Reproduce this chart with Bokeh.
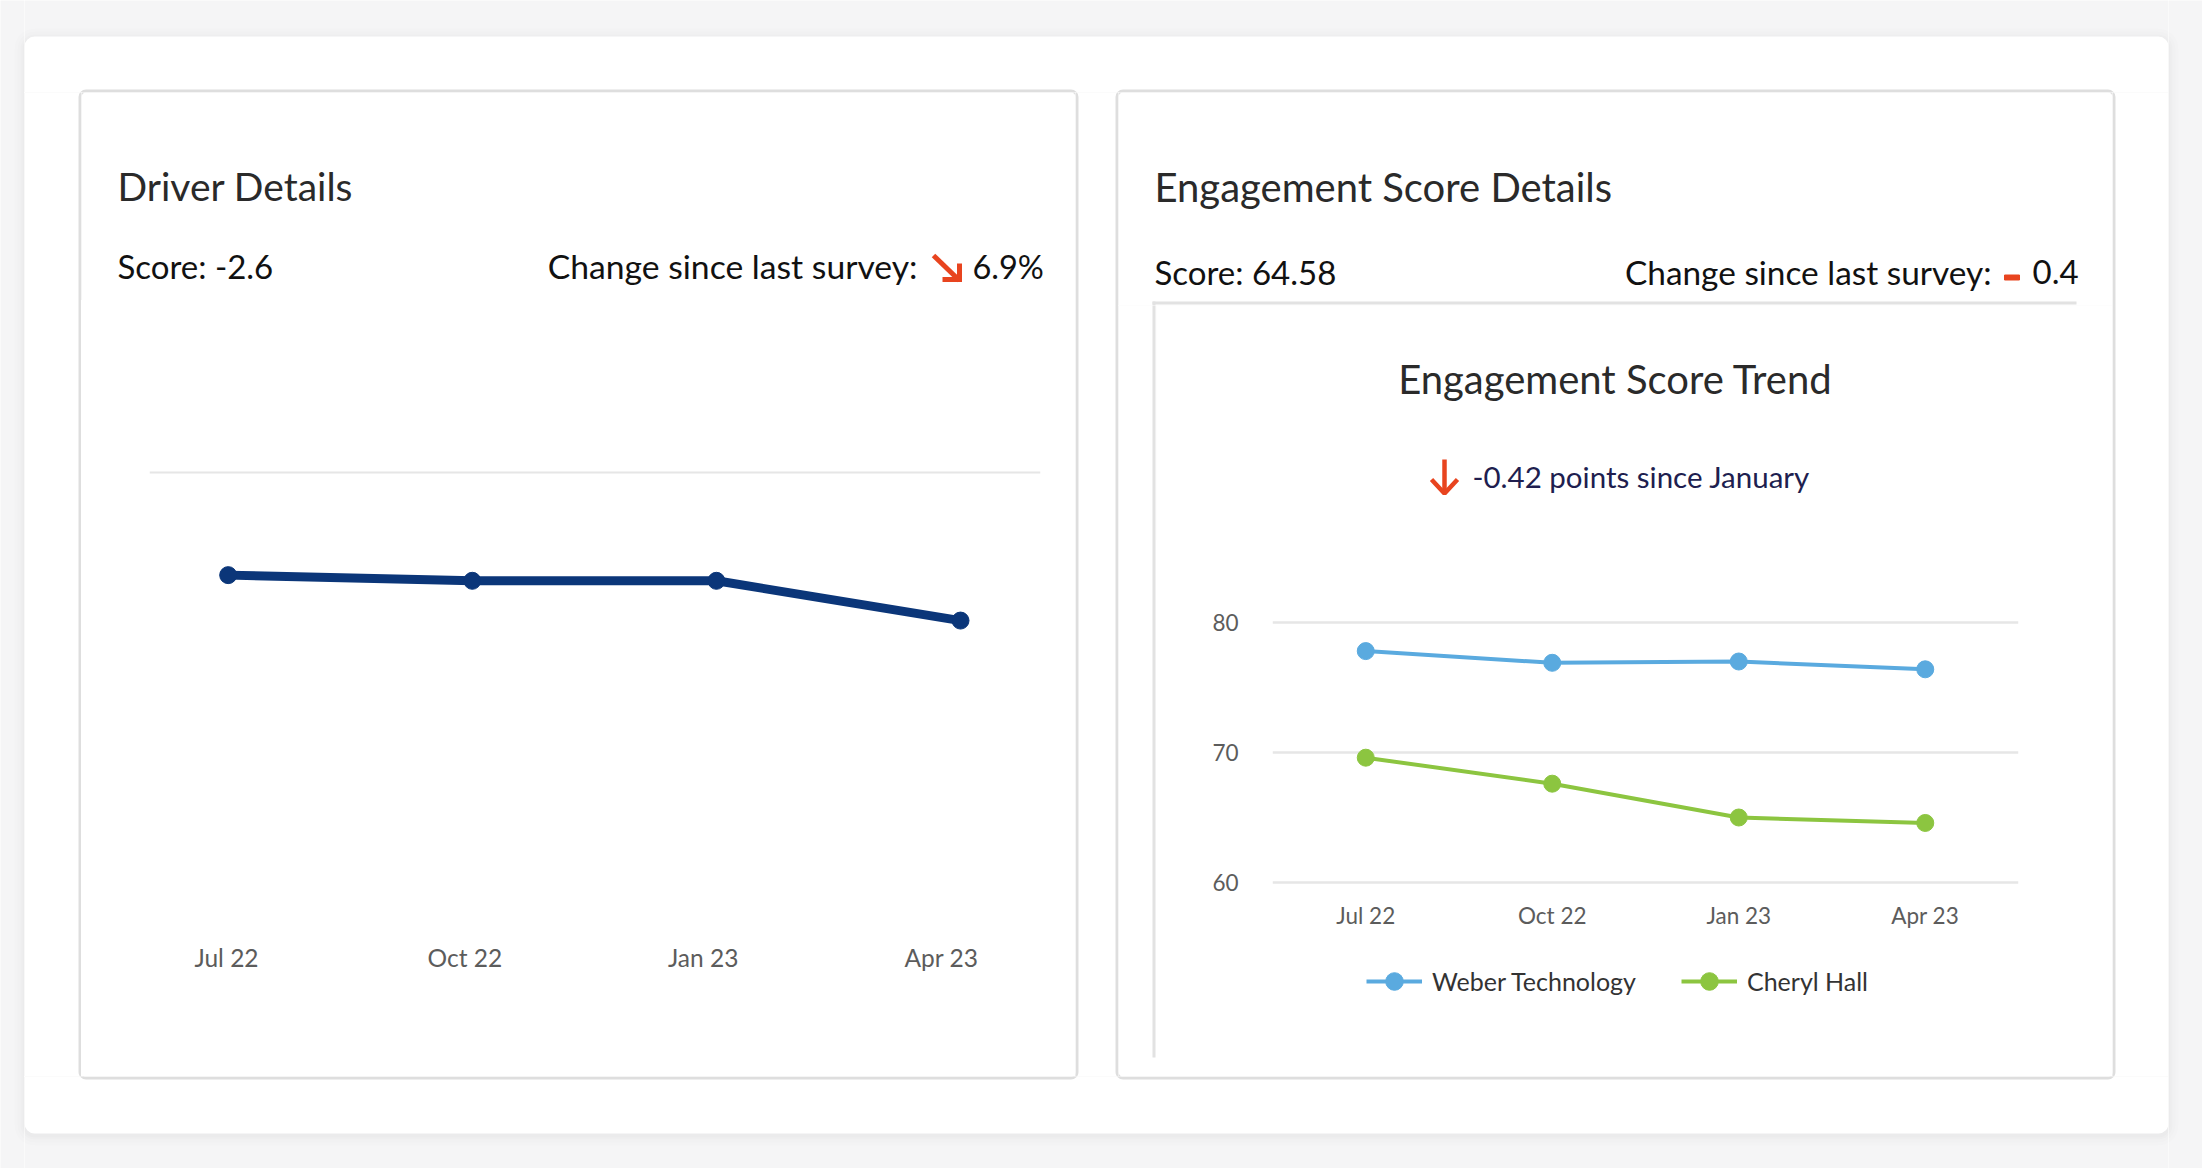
from bokeh.plotting import figure
from bokeh.models import Range1d, BoxAnnotation, FixedTicker, Legend, LegendItem, LinearAxis
from bokeh.layouts import column, row
from bokeh.embed import file_html
from bokeh.resources import INLINE
from bokeh.core.properties import value

# ---------------- data ----------------
months = ["Jul 22", "Oct 22", "Jan 23", "Apr 23"]
driver_scores = [-1.8, -1.9, -1.9, -2.6]
weber_scores = [77.8, 76.9, 77.0, 76.4]
cheryl_scores = [69.6, 67.6, 65.0, 64.58]
series_names = ["Weber Technology", "Cheryl Hall"]
engagement_ticks = [60, 70, 80]
driver_grid_ticks = [0]

driver_title = "Driver Details"
driver_score_text = "Score: -2.6"
change_label = "Change since last survey:"
driver_change_value = "6.9%"
eng_title = "Engagement Score Details"
eng_score_text = "Score: 64.58"
eng_change_value = "0.4"
trend_title = "Engagement Score Trend"
trend_subtitle = "-0.42 points since January"

# ---------------- style ----------------
FONT = "Lato"
PAGE_BG = "#F5F5F6"
BORDER = "#DEDEDE"
RED = "#E8441F"
NAVY = "#0B3679"
BLUE = "#5AAADF"
GREEN = "#8CC540"
TICK_COLOR = "#5C5C5C"


def base_fig(**kw):
    return figure(toolbar_location=None, output_backend="svg", title=None,
                  frame_align=False, outline_line_color=None, **kw)


def deco(gx0, gy0, gx1, gy1, texts=()):
    """A tile that shows a window (in page pixels) of the page decoration."""
    p = base_fig(width=gx1 - gx0, height=gy1 - gy0,
                 x_range=Range1d(gx0, gx1), y_range=Range1d(gy1, gy0), min_border=0,
                 x_axis_location=None, y_axis_location=None,
                 background_fill_color=PAGE_BG, border_fill_color=PAGE_BG)
    p.grid.visible = False
    for g, a in [(10, 0.006), (7, 0.008), (4, 0.010), (2, 0.012)]:
        p.add_layout(BoxAnnotation(left=24 - g, right=2168 + g, top=36 - g + 2, bottom=1133 + g + 2,
                                   fill_color="black", fill_alpha=a, line_color=None,
                                   border_radius=10 + g, level="underlay"))
    p.add_layout(BoxAnnotation(left=24, right=2168, top=36, bottom=1133, fill_color="white",
                               fill_alpha=1, line_color=None, border_radius=10, level="underlay"))
    for l, r in [(79.5, 1076.5), (1116.5, 2113.5)]:
        p.add_layout(BoxAnnotation(left=l, right=r, top=90.5, bottom=1077.5, fill_color="white",
                                   fill_alpha=1, line_color=BORDER, line_alpha=1, line_width=3,
                                   border_radius=6, level="underlay"))
    # inner chart container (top and left edges)
    p.segment(x0=[1152, 1153.5], y0=[302.5, 301], x1=[2076, 1153.5], y1=[302.5, 1057],
              line_color="#E2E2E2", line_width=3)
    for (x, y, t, size, color, align) in texts:
        p.text(x=[x], y=[y], text=[t], text_font=value(FONT), text_font_size=size,
               text_color=color, text_align=align, text_baseline="alphabetic")
    return p


# ---------------- tiles (page pixel windows) ----------------
outer_left = deco(0, 0, 24, 1168)
outer_right = deco(2168, 0, 2202, 1168)
top = deco(24, 0, 2168, 92)
bottom = deco(24, 1076, 2168, 1168)
left_strip = deco(24, 92, 81, 1076)
mid_strip = deco(1075, 92, 1118, 1076)
right_strip = deco(2112, 92, 2168, 1076)

head_l = deco(81, 92, 1075, 300, texts=[
    (117, 185, driver_title, "39px", "#2A2A2A", "left"),
    (117, 265.5, driver_score_text, "33px", "#111111", "left"),
    (917, 265.5, change_label, "33.7px", "#111111", "right"),
    (972, 265.5, driver_change_value, "32.5px", "#111111", "left"),
])
head_l.multi_line(xs=[[933, 959], [959, 959], [942, 961.5]],
                  ys=[[255, 280], [263, 281.5], [279, 279]],
                  line_color=RED, line_width=5)

head_r = deco(1118, 92, 2112, 305, texts=[
    (1154, 186, eng_title, "40px", "#2A2A2A", "left"),
    (1154, 271.5, eng_score_text, "33px", "#111111", "left"),
    (1991, 271.5, change_label, "33.4px", "#111111", "right"),
    (2032, 271.5, eng_change_value, "33px", "#111111", "left"),
])
head_r.quad(left=[2004], right=[2019], top=[274.5], bottom=[279.5], color=RED)

strip_r = deco(1118, 305, 1156, 1076)

title_r = deco(1156, 305, 2112, 540, texts=[
    (1615, 378, trend_title, "40px", "#2A2A2A", "center"),
    (1472, 476, trend_subtitle, "29.5px", "#201E4F", "left"),
])
title_r.multi_line(xs=[[1444, 1444], [1431, 1444, 1457]],
                   ys=[[459, 492], [479, 493, 479]],
                   line_color=RED, line_width=4.5)

xs = list(range(len(months)))
labels = {i: m for i, m in enumerate(months)}


def style_axis(ax, size, standoff):
    ax.axis_line_color = None
    ax.major_tick_line_color = None
    ax.minor_tick_line_color = None
    ax.major_tick_out = 0
    ax.major_tick_in = 0
    ax.major_label_text_font = FONT
    ax.major_label_text_font_size = size
    ax.major_label_text_color = TICK_COLOR
    ax.major_label_standoff = standoff


# ---------------- Driver chart ----------------
pl = base_fig(width=994, height=776, x_range=Range1d(-0.3224, 3.3277), y_range=Range1d(-8.02, 0.2),
              min_border_left=68, min_border_right=35, min_border_top=161, min_border_bottom=148,
              x_axis_location=None, y_axis_location=None,
              background_fill_color="white", border_fill_color="white")
pl.xgrid.visible = False
pl.ygrid.ticker = FixedTicker(ticks=driver_grid_ticks)
pl.ygrid.grid_line_color = "#E6E6E6"
pl.ygrid.grid_line_width = 2
# the month labels sit on a slightly narrower band than the points
pl.extra_x_ranges = {"labels": Range1d(-0.3231, 3.4154)}
ax_l = LinearAxis(x_range_name="labels", ticker=FixedTicker(ticks=xs),
                  major_label_overrides=labels)
style_axis(ax_l, "24.5px", 14)
pl.add_layout(ax_l, "below")
pl.line(x=xs, y=driver_scores, line_width=9, color=NAVY)
pl.scatter(x=xs, y=driver_scores, size=17, color=NAVY)

# ---------------- Engagement chart ----------------
PX_PER_UNIT = 13.0
FRAME_H = 401
pr = base_fig(width=956, height=536, x_range=Range1d(-0.5, 3.5),
              y_range=Range1d(81 - FRAME_H / PX_PER_UNIT, 81),
              min_border_left=116, min_border_right=94, min_border_top=69, min_border_bottom=66,
              x_axis_location=None,
              background_fill_color="white", border_fill_color="white")
pr.xgrid.visible = False
pr.ygrid.ticker = FixedTicker(ticks=engagement_ticks)
pr.ygrid.grid_line_color = "#E6E6E6"
pr.ygrid.grid_line_width = 2.5
pr.yaxis.ticker = FixedTicker(ticks=engagement_ticks)
style_axis(pr.yaxis[0], "22.5px", 34)
ax_r = LinearAxis(ticker=FixedTicker(ticks=xs), major_label_overrides=labels, fixed_location=59)
style_axis(ax_r, "22.5px", 6)
pr.add_layout(ax_r, "below")

r1 = pr.line(x=xs, y=weber_scores, line_width=4, color=BLUE)
s1 = pr.scatter(x=xs, y=weber_scores, size=17, color=BLUE)
r2 = pr.line(x=xs, y=cheryl_scores, line_width=4, color=GREEN)
s2 = pr.scatter(x=xs, y=cheryl_scores, size=17, color=GREEN)

legend = Legend(items=[LegendItem(label=series_names[0], renderers=[r1, s1]),
                       LegendItem(label=series_names[1], renderers=[r2, s2])],
                orientation="horizontal", location=(94, 7),
                glyph_width=56, glyph_height=44, label_standoff=10, spacing=45,
                padding=0, margin=0, border_line_color=None, background_fill_alpha=0,
                label_text_font=FONT, label_text_font_size="25px",
                label_text_color="#333333")
pr.add_layout(legend)

layout = row(
    outer_left,
    column(
        top,
        row(left_strip,
            column(head_l, pl),
            mid_strip,
            column(head_r, row(strip_r, column(title_r, pr))),
            right_strip),
        bottom,
    ),
    outer_right,
)

open("out.html", "w").write(file_html(layout, INLINE))
